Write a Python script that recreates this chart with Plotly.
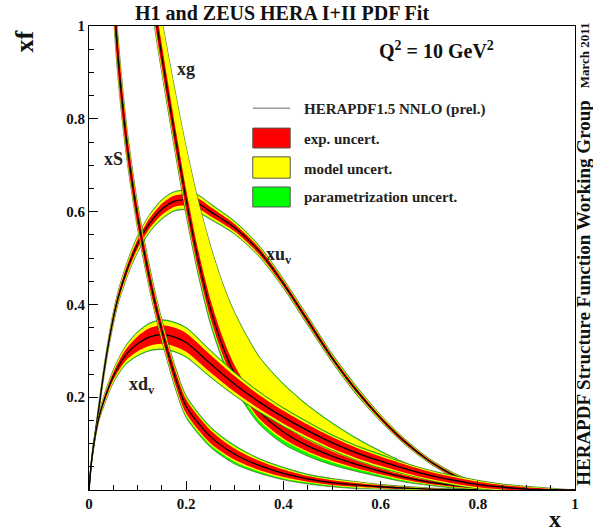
import plotly.graph_objects as go

SERIF = "Liberation Serif, Times New Roman, serif"

# ---------------- data ----------------
# x u_v
XUV_X = [0, 0.005, 0.01, 0.02, 0.03, 0.04, 0.05, 0.06, 0.08, 0.1, 0.125, 0.15, 0.175, 0.2, 0.225, 0.25,
         0.3, 0.35, 0.4, 0.45, 0.5, 0.55, 0.6, 0.65, 0.7, 0.75, 0.8, 0.85, 0.9, 0.95, 1.0]
XUV_C = [0, 0.06, 0.10, 0.175, 0.25, 0.315, 0.37, 0.415, 0.48, 0.53, 0.575, 0.605, 0.622, 0.625, 0.617, 0.60,
         0.565, 0.515, 0.445, 0.365, 0.285, 0.215, 0.155, 0.104, 0.063, 0.032, 0.012, 0.004, 0.001, 0.0002, 0]
XUV_E = [0, 0.003, 0.004, 0.005, 0.006, 0.007, 0.008, 0.008, 0.009, 0.010, 0.011, 0.012, 0.012, 0.012, 0.011, 0.010,
         0.008, 0.007, 0.006, 0.006, 0.005, 0.005, 0.004, 0.004, 0.003, 0.003, 0.002, 0.002, 0.001, 0.0005, 0]
XUV_MU = [0, 0.001, 0.002, 0.002, 0.003, 0.003, 0.004, 0.004, 0.005, 0.006, 0.006, 0.007, 0.007, 0.007, 0.006, 0.005,
          0.004, 0.003, 0.002, 0.002, 0.002, 0.002, 0.002, 0.001, 0.001, 0.001, 0.001, 0.0005, 0.0005, 0, 0]
XUV_MD = [0, 0.001, 0.002, 0.002, 0.003, 0.003, 0.004, 0.004, 0.005, 0.006, 0.006, 0.007, 0.007, 0.007, 0.006, 0.005,
          0.004, 0.003, 0.002, 0.002, 0.002, 0.002, 0.002, 0.001, 0.001, 0.001, 0.001, 0.0005, 0.0005, 0, 0]
XUV_PU = [0, 0.001, 0.001, 0.002, 0.002, 0.002, 0.002, 0.002, 0.002, 0.002, 0.002, 0.002, 0.002, 0.002, 0.002, 0.002,
          0.002, 0.002, 0.002, 0.002, 0.002, 0.002, 0.001, 0.001, 0.001, 0.001, 0.001, 0.001, 0.0005, 0, 0]
XUV_PD = [0, 0.001, 0.001, 0.002, 0.002, 0.002, 0.002, 0.002, 0.002, 0.002, 0.002, 0.002, 0.002, 0.002, 0.002, 0.002,
          0.002, 0.002, 0.002, 0.002, 0.002, 0.002, 0.001, 0.001, 0.001, 0.001, 0.001, 0.001, 0.0005, 0, 0]

# x d_v
XDV_X = [0, 0.005, 0.01, 0.02, 0.03, 0.05, 0.075, 0.1, 0.125, 0.15, 0.175, 0.2, 0.25, 0.3, 0.35, 0.4,
         0.45, 0.5, 0.55, 0.6, 0.65, 0.7, 0.75, 0.8, 0.85, 0.9, 0.95, 1.0]
XDV_C = [0, 0.06, 0.10, 0.155, 0.19, 0.245, 0.29, 0.315, 0.33, 0.335, 0.33, 0.318, 0.272, 0.228, 0.19, 0.157,
         0.128, 0.102, 0.08, 0.062, 0.046, 0.032, 0.021, 0.012, 0.006, 0.002, 0.0005, 0]
XDV_E = [0, 0.003, 0.004, 0.005, 0.006, 0.008, 0.012, 0.016, 0.019, 0.020, 0.020, 0.020, 0.019, 0.017, 0.015, 0.014,
         0.013, 0.012, 0.011, 0.010, 0.009, 0.008, 0.007, 0.006, 0.005, 0.004, 0.002, 0]
XDV_MU = [0, 0.001, 0.002, 0.002, 0.003, 0.004, 0.006, 0.008, 0.009, 0.010, 0.010, 0.010, 0.008, 0.006, 0.005, 0.004,
          0.004, 0.003, 0.003, 0.003, 0.002, 0.002, 0.002, 0.002, 0.001, 0.001, 0.001, 0]
XDV_MD = [0, 0.001, 0.002, 0.002, 0.003, 0.004, 0.006, 0.008, 0.009, 0.010, 0.010, 0.010, 0.008, 0.006, 0.005, 0.004,
          0.004, 0.003, 0.003, 0.003, 0.002, 0.002, 0.002, 0.002, 0.001, 0.001, 0.001, 0]
XDV_PU = [0, 0.001, 0.001, 0.001, 0.002, 0.002, 0.002, 0.002, 0.002, 0.002, 0.002, 0.002, 0.002, 0.002, 0.002, 0.002,
          0.002, 0.002, 0.002, 0.002, 0.001, 0.001, 0.001, 0.001, 0.001, 0.001, 0.0005, 0]
XDV_PD = [0, 0.001, 0.001, 0.001, 0.002, 0.002, 0.002, 0.002, 0.002, 0.002, 0.002, 0.002, 0.002, 0.002, 0.002, 0.002,
          0.002, 0.002, 0.002, 0.002, 0.001, 0.001, 0.001, 0.001, 0.001, 0.001, 0.0005, 0]

# x g
XG_X = [0.12, 0.14, 0.16, 0.18, 0.2, 0.225, 0.25, 0.275, 0.3, 0.35, 0.4, 0.45, 0.5, 0.55, 0.6, 0.65,
        0.7, 0.75, 0.8, 0.85, 0.9]
XG_C = [1.14, 1.0, 0.87, 0.745, 0.625, 0.495, 0.39, 0.31, 0.25, 0.17, 0.125, 0.095, 0.073, 0.055, 0.04, 0.027,
        0.017, 0.01, 0.005, 0.002, 0.0005]
XG_E = [0.025, 0.025, 0.024, 0.023, 0.022, 0.021, 0.020, 0.019, 0.018, 0.016, 0.014, 0.012, 0.010, 0.008, 0.006, 0.005,
        0.004, 0.003, 0.002, 0.001, 0.0005]
XG_MU = [0.045, 0.05, 0.06, 0.075, 0.09, 0.105, 0.115, 0.115, 0.112, 0.10, 0.088, 0.074, 0.06, 0.047, 0.036, 0.026,
         0.018, 0.011, 0.006, 0.003, 0.001]
XG_MD = [0.010, 0.010, 0.008, 0.007, 0.006, 0.005, 0.005, 0.004, 0.004, 0.004, 0.004, 0.003, 0.003, 0.002, 0.002, 0.002,
         0.001, 0.001, 0.001, 0.0005, 0]
XG_PU = [0.002, 0.002, 0.002, 0.002, 0.002, 0.002, 0.002, 0.002, 0.002, 0.002, 0.002, 0.002, 0.002, 0.002, 0.002, 0.001,
         0.001, 0.001, 0.001, 0.0005, 0]
XG_PD = [0.002, 0.003, 0.004, 0.005, 0.006, 0.007, 0.008, 0.008, 0.008, 0.008, 0.008, 0.007, 0.006, 0.005, 0.004, 0.003,
         0.002, 0.002, 0.001, 0.0005, 0]

# x S
XS_X = [0.03, 0.04, 0.05, 0.055, 0.06, 0.07, 0.08, 0.1, 0.12, 0.14, 0.16, 0.18, 0.2, 0.25, 0.3, 0.35,
        0.4, 0.45, 0.5, 0.55, 0.6, 0.65, 0.7, 0.8]
XS_C = [1.6, 1.3, 1.08, 1.0, 0.93, 0.82, 0.73, 0.59, 0.48, 0.385, 0.305, 0.235, 0.18, 0.115, 0.077, 0.053,
        0.036, 0.024, 0.016, 0.011, 0.007, 0.004, 0.002, 0.0005]
XS_E = [0.05, 0.045, 0.04, 0.04, 0.035, 0.03, 0.025, 0.02, 0.018, 0.016, 0.015, 0.015, 0.015, 0.014, 0.012, 0.010,
        0.008, 0.006, 0.005, 0.004, 0.003, 0.002, 0.001, 0]
XS_MU = [0.012, 0.010, 0.009, 0.008, 0.008, 0.007, 0.006, 0.005, 0.005, 0.005, 0.005, 0.005, 0.005, 0.004, 0.004, 0.003,
         0.003, 0.002, 0.002, 0.002, 0.001, 0.001, 0.001, 0]
XS_MD = [0.012, 0.010, 0.009, 0.008, 0.008, 0.007, 0.006, 0.005, 0.005, 0.005, 0.005, 0.005, 0.005, 0.004, 0.004, 0.003,
         0.003, 0.002, 0.002, 0.002, 0.001, 0.001, 0.001, 0]
XS_PU = [0.003, 0.003, 0.003, 0.003, 0.003, 0.003, 0.003, 0.003, 0.003, 0.003, 0.003, 0.003, 0.003, 0.003, 0.003, 0.002,
         0.002, 0.002, 0.002, 0.001, 0.001, 0.001, 0.0005, 0]
XS_PD = [0.003, 0.003, 0.003, 0.003, 0.003, 0.003, 0.003, 0.003, 0.003, 0.003, 0.003, 0.004, 0.004, 0.005, 0.005, 0.004,
         0.003, 0.003, 0.002, 0.002, 0.001, 0.001, 0.0005, 0]

X_TICKS = [0, 0.2, 0.4, 0.6, 0.8, 1.0]
X_TICKTEXT = ["0", "0.2", "0.4", "0.6", "0.8", "1"]
Y_TICKS = [0.2, 0.4, 0.6, 0.8, 1.0]
Y_TICKTEXT = ["0.2", "0.4", "0.6", "0.8", "1"]

LEGEND_LABELS = ["HERAPDF1.5 NNLO (prel.)", "exp. uncert.", "model uncert.", "parametrization uncert."]

RED = "#ff0000"
YELLOW = "#ffff00"
GREEN = "#00ff00"

fig = go.Figure()


def band(xs, lo, hi, color, outline=None):
    fig.add_trace(go.Scatter(
        x=list(xs) + list(xs)[::-1],
        y=list(hi) + list(lo)[::-1],
        mode="lines", fill="toself", fillcolor=color,
        line=dict(width=0.7 if outline else 0, color=outline or color, shape="spline", smoothing=0.8),
        hoverinfo="skip", showlegend=False))


def add_pdf(xs, c, e, mu, md, pu, pd):
    r_hi = [a + b for a, b in zip(c, e)]
    r_lo = [a - b for a, b in zip(c, e)]
    y_hi = [a + b for a, b in zip(r_hi, mu)]
    y_lo = [a - b for a, b in zip(r_lo, md)]
    g_hi = [a + b for a, b in zip(y_hi, pu)]
    g_lo = [a - b for a, b in zip(y_lo, pd)]
    band(xs, g_lo, g_hi, GREEN, outline="#4a5a20")
    band(xs, y_lo, y_hi, YELLOW)
    band(xs, r_lo, r_hi, RED)
    fig.add_trace(go.Scatter(x=xs, y=c, mode="lines",
                             line=dict(color="black", width=1.3, shape="spline", smoothing=0.8),
                             hoverinfo="skip", showlegend=False))


add_pdf(XUV_X, XUV_C, XUV_E, XUV_MU, XUV_MD, XUV_PU, XUV_PD)
add_pdf(XG_X, XG_C, XG_E, XG_MU, XG_MD, XG_PU, XG_PD)
add_pdf(XDV_X, XDV_C, XDV_E, XDV_MU, XDV_MD, XDV_PU, XDV_PD)
add_pdf(XS_X, XS_C, XS_E, XS_MU, XS_MD, XS_PU, XS_PD)

# ---------------- legend (drawn inside the frame) ----------------
shapes = [
    dict(type="line", xref="x", yref="y", x0=0.337, x1=0.414, y0=0.823, y1=0.823,
         line=dict(color="#9a9a9a", width=1.5)),
]
for (y0, y1, col) in [(0.737, 0.780, RED), (0.672, 0.718, YELLOW), (0.610, 0.653, GREEN)]:
    shapes.append(dict(type="rect", xref="x", yref="y", x0=0.337, x1=0.414, y0=y0, y1=y1,
                       fillcolor=col, line=dict(color="#555555", width=1)))

annotations = []
for label, yc in zip(LEGEND_LABELS, [0.819, 0.756, 0.692, 0.631]):
    annotations.append(dict(x=0.438, y=yc, xref="x", yref="y", text="<b>%s</b>" % label,
                            showarrow=False, xanchor="left", yanchor="middle",
                            font=dict(family=SERIF, size=15, color="#222")))

curve_labels = [("xg", 0.200, 0.907), ("xS", 0.051, 0.713),
                ("xu<sub>v</sub>", 0.390, 0.506), ("xd<sub>v</sub>", 0.110, 0.226)]
for t, xx, yy in curve_labels:
    annotations.append(dict(x=xx, y=yy, xref="x", yref="y", text="<b>%s</b>" % t, showarrow=False,
                            xanchor="center", yanchor="middle", font=dict(family=SERIF, size=18, color="#222")))

annotations += [
    dict(x=0.716, y=0.948, xref="x", yref="y", text="<b>Q<sup>2</sup> = 10 GeV<sup>2</sup></b>",
         showarrow=False, xanchor="center", yanchor="middle", font=dict(family=SERIF, size=20, color="#111")),
    dict(x=0.397, y=1.029, xref="paper", yref="paper", text="<b>H1 and ZEUS HERA I+II PDF Fit</b>",
         showarrow=False, xanchor="center", yanchor="middle", font=dict(family=SERIF, size=20, color="#111")),
    dict(x=-0.132, y=0.966, xref="paper", yref="paper", text="<b>xf</b>", textangle=-90,
         showarrow=False, xanchor="center", yanchor="middle", font=dict(family=SERIF, size=26, color="#111")),
    dict(x=0.959, y=-0.062, xref="paper", yref="paper", text="<b>x</b>",
         showarrow=False, xanchor="center", yanchor="middle", font=dict(family=SERIF, size=24, color="#111")),
    dict(x=1.0185, y=0.937, xref="paper", yref="paper", text="<b>March 2011</b>", textangle=-90,
         showarrow=False, xanchor="center", yanchor="middle", font=dict(family=SERIF, size=13, color="#111")),
    dict(x=1.0185, y=0.425, xref="paper", yref="paper",
         text="<b>HERAPDF Structure Function Working Group</b>", textangle=-90,
         showarrow=False, xanchor="center", yanchor="middle", font=dict(family=SERIF, size=19, color="#111")),
]

axis_common = dict(
    range=[0, 1], showgrid=False, zeroline=False, showline=True, linecolor="black", linewidth=1,
    mirror=True, ticks="inside", ticklen=9, tickwidth=1, tickcolor="black",
    tickfont=dict(family=SERIF, size=15, color="#111", weight="bold"),
    minor=dict(dtick=0.05, tick0=0, ticks="inside", ticklen=5, tickwidth=1, tickcolor="black", showgrid=False),
)

fig.update_layout(
    width=593, height=531,
    margin=dict(l=89, r=18, t=26, b=41),
    paper_bgcolor="white", plot_bgcolor="white",
    xaxis=dict(tickvals=X_TICKS, ticktext=X_TICKTEXT, **axis_common),
    yaxis=dict(tickvals=Y_TICKS, ticktext=Y_TICKTEXT, **axis_common),
    shapes=shapes, annotations=annotations, showlegend=False,
)

fig.write_html("out.html", config={"displayModeBar": False},
               post_script="document.body.style.margin='0';document.body.style.overflow='hidden';")
